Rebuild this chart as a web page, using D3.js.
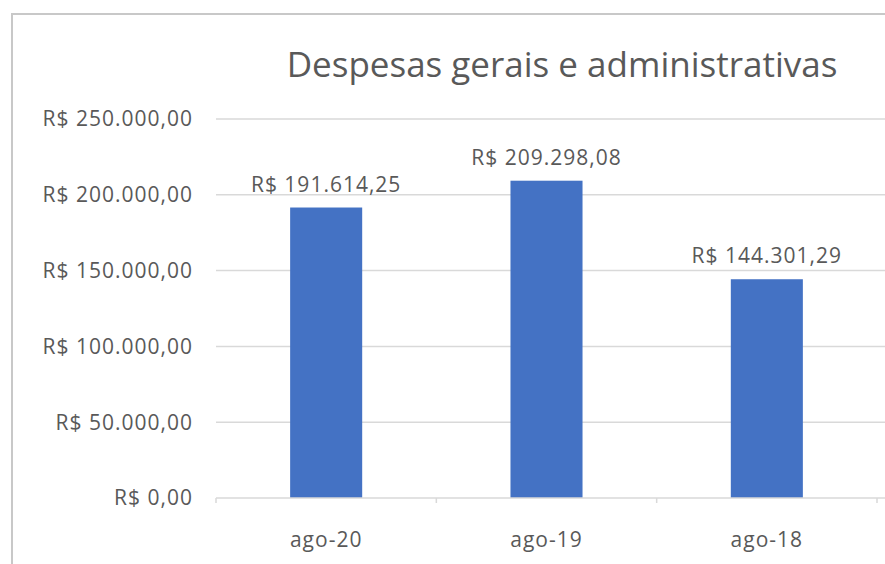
<!DOCTYPE html>
<html>
<head>
<meta charset="utf-8">
<script src="https://cdn.jsdelivr.net/npm/d3@7"></script>
<style>
  body { margin: 0; background: #fff; }
  text { font-family: "Open Sans", sans-serif; fill: #595959; }
</style>
</head>
<body>
<div id="chart"></div>
<script>
// data
const categories = ["ago-20", "ago-19", "ago-18"];
const values = [191614.25, 209298.08, 144301.29];
const yTicks = [0, 50000, 100000, 150000, 200000, 250000];
const title = "Despesas gerais e administrativas";

// brazilian currency format
const fmt = v => "R$ " + d3.format(",.2f")(v).replace(/,/g, "#").replace(".", ",").replace(/#/g, ".");

const W = 885, H = 564;
const plot = {left: 216, right: 877, top: 119, bottom: 498};

const svg = d3.select("#chart").append("svg")
  .attr("width", W).attr("height", H);

// chart border (cut off at right and bottom)
svg.append("rect")
  .attr("x", 12).attr("y", 14)
  .attr("width", W + 20).attr("height", H + 20)
  .attr("fill", "none")
  .attr("stroke", "#c8c8c8")
  .attr("stroke-width", 2);

const x = d3.scaleBand()
  .domain(categories)
  .range([plot.left, plot.right])
  .paddingInner(0.673)
  .paddingOuter(0.673 / 2);

const y = d3.scaleLinear()
  .domain([0, 250000])
  .range([plot.bottom, plot.top]);

// gridlines
svg.append("g")
  .selectAll("line")
  .data(yTicks.filter(d => d > 0))
  .join("line")
  .attr("x1", plot.left).attr("x2", W)
  .attr("y1", d => y(d)).attr("y2", d => y(d))
  .attr("stroke", "#d9d9d9")
  .attr("stroke-width", 1.5);

// y axis labels
svg.append("g")
  .selectAll("text")
  .data(yTicks)
  .join("text")
  .attr("x", 193)
  .attr("y", d => y(d))
  .attr("dy", "0.35em")
  .attr("text-anchor", "end")
  .style("font-size", "21px")
  .style("letter-spacing", "1px")
  .text(d => fmt(d));

// bars
svg.append("g")
  .selectAll("rect")
  .data(values)
  .join("rect")
  .attr("x", (d, i) => x(categories[i]))
  .attr("y", d => y(d))
  .attr("width", x.bandwidth())
  .attr("height", d => y(0) - y(d))
  .attr("fill", "#4472c4");

// data labels
svg.append("g")
  .selectAll("text")
  .data(values)
  .join("text")
  .attr("x", (d, i) => x(categories[i]) + x.bandwidth() / 2)
  .attr("y", d => y(d) - 16)
  .attr("text-anchor", "middle")
  .style("font-size", "21px")
  .style("letter-spacing", "1px")
  .text(d => fmt(d));

// category axis
const xAxis = svg.append("g");
xAxis.append("line")
  .attr("x1", plot.left).attr("x2", W)
  .attr("y1", plot.bottom).attr("y2", plot.bottom)
  .attr("stroke", "#d9d9d9")
  .attr("stroke-width", 1.5);

const step = x.step();
xAxis.selectAll(".tick")
  .data(d3.range(categories.length + 1))
  .join("line")
  .attr("class", "tick")
  .attr("x1", i => plot.left + i * step).attr("x2", i => plot.left + i * step)
  .attr("y1", plot.bottom).attr("y2", plot.bottom + 5)
  .attr("stroke", "#d9d9d9")
  .attr("stroke-width", 1.5);

xAxis.selectAll("text")
  .data(categories)
  .join("text")
  .attr("x", d => x(d) + x.bandwidth() / 2)
  .attr("y", 547)
  .attr("text-anchor", "middle")
  .style("font-size", "21px")
  .style("letter-spacing", "1px")
  .text(d => d);

// title
svg.append("text")
  .attr("x", 562)
  .attr("y", 77)
  .attr("text-anchor", "middle")
  .style("font-size", "35px")
  .text(title);
</script>
</body>
</html>
